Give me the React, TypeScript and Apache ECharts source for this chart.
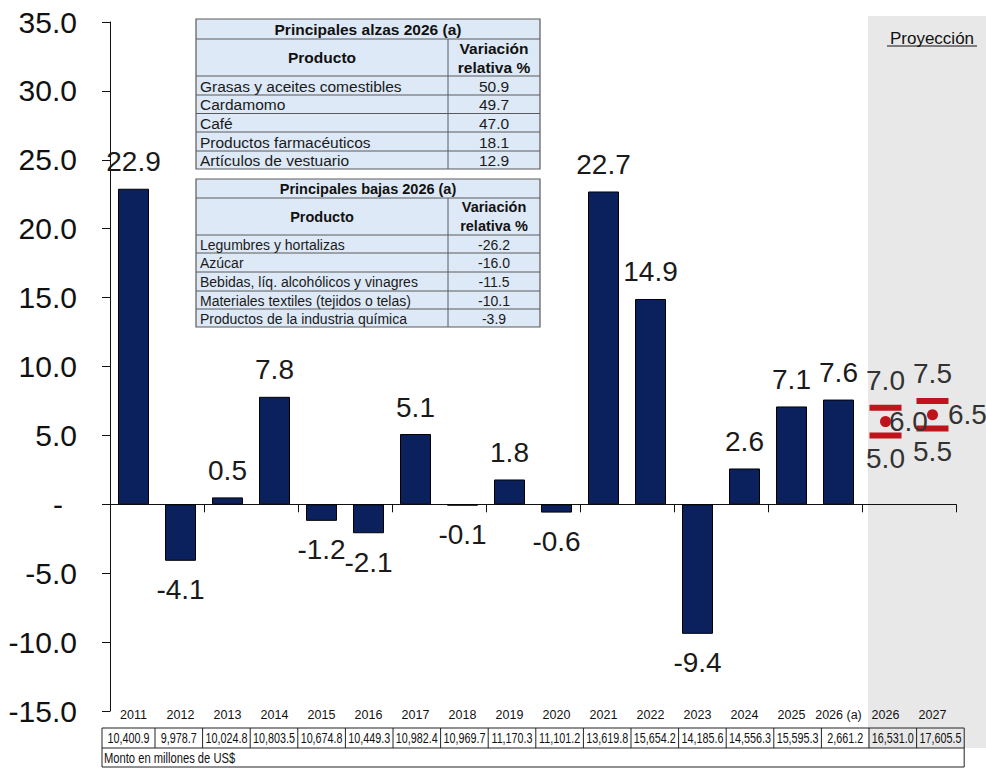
import React, { useEffect, useRef } from "react";
import * as echarts from "echarts";

const years = ["2011","2012","2013","2014","2015","2016","2017","2018","2019","2020","2021","2022","2023","2024","2025","2026 (a)","2026","2027"];
const growth: (number | null)[] = [22.9,-4.1,0.5,7.8,-1.2,-2.1,5.1,-0.1,1.8,-0.6,22.7,14.9,-9.4,2.6,7.1,7.6,null,null];
const projHigh: (number | null)[] = [null,null,null,null,null,null,null,null,null,null,null,null,null,null,null,null,7.0,7.5];
const projMid: (number | null)[] = [null,null,null,null,null,null,null,null,null,null,null,null,null,null,null,null,6.0,6.5];
const projLow: (number | null)[] = [null,null,null,null,null,null,null,null,null,null,null,null,null,null,null,null,5.0,5.5];
const amounts = ["10,400.9","9,978.7","10,024.8","10,803.5","10,674.8","10,449.3","10,982.4","10,969.7","11,170.3","11,101.2","13,619.8","15,654.2","14,185.6","14,556.3","15,595.3","2,661.2","16,531.0","17,605.5"];
const alzasProducts = ["Grasas y aceites comestibles","Cardamomo","Café","Productos farmacéuticos","Artículos de vestuario"];
const alzasValues = ["50.9","49.7","47.0","18.1","12.9"];
const bajasProducts = ["Legumbres y hortalizas","Azúcar","Bebidas, líq. alcohólicos y vinagres","Materiales textiles (tejidos o telas)","Productos de la industria química"];
const bajasValues = ["-26.2","-16.0","-11.5","-10.1","-3.9"];

const FONT = "'Liberation Sans', Arial, sans-serif";

function buildTable(title: string, products: string[], values: string[], x0: number, x1: number, xd: number, ys: number[], headSize: number, rowSize: number) {
  const els: any[] = [];
  const top = ys[0];
  const bottom = ys[ys.length - 1];
  els.push({ type: "rect", shape: { x: x0, y: top, width: x1 - x0, height: bottom - top }, style: { fill: "#dde9f6", stroke: "#5a5a5a", lineWidth: 1.2 }, z: 10 });
  for (let i = 1; i < ys.length - 1; i++) {
    els.push({ type: "line", shape: { x1: x0, y1: ys[i], x2: x1, y2: ys[i] }, style: { stroke: "#5a5a5a", lineWidth: 1 }, z: 11 });
  }
  els.push({ type: "line", shape: { x1: xd, y1: ys[1], x2: xd, y2: bottom }, style: { stroke: "#5a5a5a", lineWidth: 1 }, z: 11 });
  els.push({ type: "text", x: (x0 + x1) / 2, y: (ys[0] + ys[1]) / 2 + 0.5, style: { text: title, fontFamily: FONT, fontWeight: "bold", fontSize: headSize, fill: "#111", align: "center", verticalAlign: "middle" }, z: 12 });
  els.push({ type: "text", x: (x0 + xd) / 2, y: (ys[1] + ys[2]) / 2, style: { text: "Producto", fontFamily: FONT, fontWeight: "bold", fontSize: headSize, fill: "#111", align: "center", verticalAlign: "middle" }, z: 12 });
  els.push({ type: "text", x: (xd + x1) / 2, y: (ys[1] + ys[2]) / 2, style: { text: "Variación\nrelativa %", fontFamily: FONT, fontWeight: "bold", fontSize: headSize, lineHeight: 19, fill: "#111", align: "center", verticalAlign: "middle" }, z: 12 });
  products.forEach((p, i) => {
    const yc = (ys[i + 2] + ys[i + 3]) / 2 + 0.5;
    els.push({ type: "text", x: x0 + 4, y: yc, style: { text: p, fontFamily: FONT, fontSize: rowSize, fill: "#1a1a1a", align: "left", verticalAlign: "middle" }, z: 12 });
    els.push({ type: "text", x: (xd + x1) / 2, y: yc, style: { text: values[i], fontFamily: FONT, fontSize: rowSize, fill: "#1a1a1a", align: "center", verticalAlign: "middle" }, z: 12 });
  });
  return els;
}

function buildAmountTable() {
  const els: any[] = [];
  const edges: number[] = [102];
  for (let i = 0; i < amounts.length; i++) edges.push(155 + i * 47.6);
  const yTop = 728, yMid = 748, yBot = 767;
  const right = edges[edges.length - 1];
  els.push({ type: "rect", shape: { x: edges[0], y: yTop, width: right - edges[0], height: yBot - yTop }, style: { fill: "none", stroke: "#222", lineWidth: 1 }, z: 10 });
  els.push({ type: "line", shape: { x1: edges[0], y1: yMid, x2: right, y2: yMid }, style: { stroke: "#222", lineWidth: 1 }, z: 10 });
  for (let i = 1; i < edges.length - 1; i++) {
    els.push({ type: "line", shape: { x1: edges[i], y1: yTop, x2: edges[i], y2: yMid }, style: { stroke: "#222", lineWidth: 1 }, z: 10 });
  }
  amounts.forEach((a, i) => {
    els.push({ type: "text", x: (edges[i] + edges[i + 1]) / 2, y: (yTop + yMid) / 2 + 1, scaleX: 0.77, style: { text: a, fontFamily: FONT, fontSize: 14, fill: "#111", align: "center", verticalAlign: "middle" }, z: 11 });
  });
  els.push({ type: "text", x: edges[0] + 2, y: (yMid + yBot) / 2 + 1, scaleX: 0.8, style: { text: "Monto en millones de US$", fontFamily: FONT, fontSize: 14, fill: "#111", align: "left", verticalAlign: "middle" }, z: 11 });
  return els;
}

export default function App() {
  const ref = useRef<HTMLDivElement>(null);
  useEffect(() => {
    if (!ref.current) return;
    const chart = echarts.init(ref.current, null, { renderer: "svg" });
    const barData = growth.map((v) =>
      v === null ? "-" : { value: v, label: { position: v < 0 ? "bottom" : "top", distance: v < 0 ? 15 : 13 } }
    );
    const midLabelDist = [0, 0, 0, 0, 0, 0, 0, 0, 0, 0, 0, 0, 0, 0, 0, 0, -2, 10];
    const midData = projMid.map((v, i) => (v === null ? "-" : { value: v, label: { distance: midLabelDist[i] } }));
    const option: any = {
      animation: false,
      backgroundColor: "#ffffff",
      grid: { left: 110, right: 30, top: 22, bottom: 66, containLabel: false },
      xAxis: [
        {
          type: "category",
          data: years,
          position: "bottom",
          axisLine: { show: true, onZero: true, lineStyle: { color: "#111", width: 1 } },
          axisTick: { show: true, length: 8, lineStyle: { color: "#111" } },
          axisLabel: { show: false },
          splitLine: { show: false },
        },
        {
          type: "category",
          data: years,
          position: "bottom",
          axisLine: { show: false, onZero: false },
          axisTick: { show: false },
          axisLabel: { show: true, fontFamily: FONT, fontSize: 12.5, color: "#111", margin: -3, interval: 0 },
          splitLine: { show: false },
        },
      ],
      yAxis: {
        type: "value",
        min: -15,
        max: 35,
        interval: 5,
        axisLine: { show: true, lineStyle: { color: "#111", width: 1 } },
        axisTick: { show: true, length: 8, lineStyle: { color: "#111" } },
        splitLine: { show: false },
        axisLabel: {
          fontFamily: FONT,
          fontSize: 30,
          color: "#111",
          margin: 33,
          formatter: (v: number) => (v === 0 ? "{dash|-}" : v.toFixed(1)),
          rich: { dash: { fontFamily: FONT, fontSize: 30, color: "#111", padding: [0, 14, 0, 0] } },
        },
      },
      graphic: [
        { type: "rect", shape: { x: 868, y: 16, width: 118, height: 732 }, style: { fill: "#e8e8e8" }, z: -10, silent: true },
        { type: "text", x: 932, y: 38, style: { text: "Proyección", fontFamily: FONT, fontSize: 17, fill: "#111", align: "center", verticalAlign: "middle" }, z: 5 },
        { type: "line", shape: { x1: 887, y1: 46, x2: 977, y2: 46 }, style: { stroke: "#111", lineWidth: 1 }, z: 5 },
        ...buildTable("Principales alzas 2026 (a)", alzasProducts, alzasValues, 196, 540, 448, [19, 39, 76, 95, 113.5, 132, 151, 169], 15.5, 15.5),
        ...buildTable("Principales bajas 2026 (a)", bajasProducts, bajasValues, 196, 540, 448, [179, 198, 235, 253, 272, 291, 309, 327], 14.5, 14),
        ...buildAmountTable(),
      ],
      series: [
        {
          type: "bar",
          xAxisIndex: 0,
          data: barData,
          barWidth: 31,
          itemStyle: { color: "#0a215e", borderColor: "#000", borderWidth: 1 },
          label: {
            show: true,
            fontFamily: FONT,
            fontSize: 28,
            color: "#1a1a1a",
            formatter: (p: any) => Number(p.value).toFixed(1),
          },
        },
        {
          type: "scatter",
          xAxisIndex: 0,
          data: projHigh.map((v) => (v === null ? "-" : v)),
          symbol: "rect",
          symbolSize: [32, 6],
          itemStyle: { color: "#c0141c", opacity: 1 },
          label: { show: true, position: "top", distance: 10, fontFamily: FONT, fontSize: 28, color: "#333", formatter: (p: any) => Number(p.value).toFixed(1) },
        },
        {
          type: "scatter",
          xAxisIndex: 0,
          data: projLow.map((v) => (v === null ? "-" : v)),
          symbol: "rect",
          symbolSize: [32, 6],
          itemStyle: { color: "#c0141c", opacity: 1 },
          label: { show: true, position: "bottom", distance: 6, fontFamily: FONT, fontSize: 28, color: "#333", formatter: (p: any) => Number(p.value).toFixed(1) },
        },
        {
          type: "scatter",
          xAxisIndex: 0,
          data: midData,
          symbol: "circle",
          symbolSize: 11,
          itemStyle: { color: "#c0141c", opacity: 1 },
          label: { show: true, position: "right", fontFamily: FONT, fontSize: 28, color: "#333", formatter: (p: any) => Number(p.value).toFixed(1) },
        },
      ],
    };
    chart.setOption(option);
    return () => chart.dispose();
  }, []);
  return <div ref={ref} style={{ position: "absolute", left: 0, top: 0, width: 986, height: 777 }} />;
}
